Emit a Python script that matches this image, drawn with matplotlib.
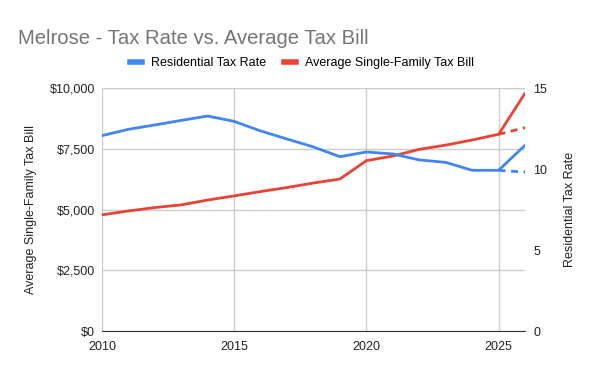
import matplotlib
matplotlib.use("Agg")
import matplotlib.pyplot as plt
from matplotlib.ticker import FuncFormatter
from matplotlib.lines import Line2D

plt.rcParams['font.family'] = ['Liberation Sans', 'DejaVu Sans']

years = [2010, 2011, 2012, 2013, 2014, 2015, 2016, 2017, 2018, 2019, 2020, 2021, 2022, 2023, 2024, 2025, 2026]
tax_rate = [12.06, 12.45, 12.72, 13.0, 13.27, 12.94, 12.35, 11.85, 11.36, 10.76, 11.05, 10.93, 10.56, 10.41, 9.92, 9.92, 11.46]
tax_bill = [4780, 4940, 5080, 5190, 5390, 5560, 5740, 5905, 6090, 6255, 7010, 7200, 7475, 7650, 7860, 8095, 9780]
proj_years = [2025, 2026]
proj_rate = [9.92, 9.81]
proj_bill = [8095, 8370]

blue = '#4285f4'
red = '#ea4335'

fig = plt.figure(figsize=(6, 3.71), dpi=100)
ax = fig.add_axes([0.17, 0.1078, 0.705, 0.655])
ax2 = ax.twinx()

ax.plot(years, tax_bill, color=red, lw=2, solid_capstyle='round', zorder=3)
ax.plot(proj_years, proj_bill, color=red, lw=2, ls=(0, (2.5, 2)), zorder=3)
ax2.plot(years, tax_rate, color=blue, lw=2, solid_capstyle='round', zorder=3)
ax2.plot(proj_years, proj_rate, color=blue, lw=2, ls=(0, (2.5, 2)), zorder=3)

ax.set_xlim(2010, 2026)
ax.set_ylim(0, 10000)
ax2.set_ylim(0, 15)
ax.set_xticks([2010, 2015, 2020, 2025])
ax.set_yticks([0, 2500, 5000, 7500, 10000])
ax2.set_yticks([0, 5, 10, 15])
ax.yaxis.set_major_formatter(FuncFormatter(lambda v, p: f"${int(v):,}"))
ax.grid(True, color='#cccccc', lw=1)
ax.set_axisbelow(True)

for a in (ax, ax2):
    for s in a.spines.values():
        s.set_visible(False)
    a.tick_params(length=0, labelsize=9, colors='#222222')
ax.spines['bottom'].set_visible(True)
ax.spines['bottom'].set_color('#333333')
ax.tick_params(axis='x', pad=7)
ax.tick_params(axis='y', pad=5)
ax2.tick_params(axis='y', pad=6)

ax.set_ylabel('Average Single-Family Tax Bill', fontsize=9, color='#222222', labelpad=9)
ax2.set_ylabel('Residential Tax Rate', fontsize=9, color='#222222', labelpad=12)

fig.text(0.03, 0.897, 'Melrose - Tax Rate vs. Average Tax Bill', fontsize=14.6, color='#757575', va='center')

handles = [Line2D([], [], color=blue, lw=4), Line2D([], [], color=red, lw=4)]
fig.legend(handles, ['Residential Tax Rate', 'Average Single-Family Tax Bill'],
           loc='center', bbox_to_anchor=(0.503, 0.829), ncol=2, frameon=False,
           fontsize=9, handlelength=1.0, columnspacing=1.4, handletextpad=0.7)

fig.savefig('out.png', dpi=100, facecolor='white')
